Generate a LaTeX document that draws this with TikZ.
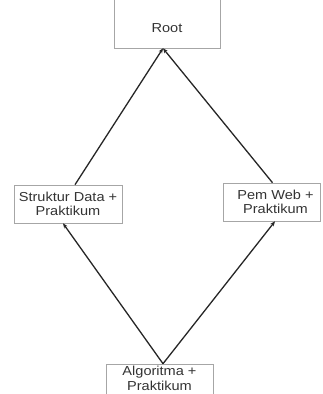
\documentclass[tikz,border=0pt]{standalone}
\usepackage{fontspec}
\setmainfont{Liberation Sans}
\usetikzlibrary{arrows.meta}
\begin{document}
\begin{tikzpicture}[x=1pt,y=-1pt,
  box/.style={draw=black!35,line width=0.6pt,rectangle,inner sep=0pt,
    text=black!80,align=center,font=\fontsize{13}{14.5}\selectfont},
  lbl/.style={inner sep=0pt,text=black!80,align=center,font=\fontsize{13}{14.5}\selectfont},
  link/.style={draw=black!85,line width=1.3pt,-{Stealth[length=5pt,width=4pt]}}]
\useasboundingbox (0,0) rectangle (323,394);
\node[box,minimum width=106pt,minimum height=52pt] (root) at (167,22) {};
\node[lbl] (roottxt) at (167,28) {\scalebox{1.12}[1]{Root}};
\node[box,minimum width=108pt,minimum height=38pt] (sd) at (68,204) {\scalebox{1.12}[1]{Struktur Data +}\\\scalebox{1.12}[1]{Praktikum}};
\node[box,minimum width=97pt,minimum height=38pt] (pw) at (271.5,202) {\hspace*{8pt}\scalebox{1.12}[1]{Pem Web +}\\\hspace*{8pt}\scalebox{1.12}[1]{Praktikum}};
\node[box,minimum width=107pt,minimum height=40pt] (al) at (159.5,384) {};
\node[lbl] (altxt) at (159.5,378.5) {\scalebox{1.12}[1]{Algoritma +}\\\scalebox{1.12}[1]{Praktikum}};
\draw[link] ([xshift=7pt]sd.north) -- ([xshift=-4pt]root.south);
\draw[link] ([xshift=1pt]pw.north) -- ([xshift=-4pt]root.south);
\draw[link] ([xshift=3.5pt]al.north) -- ([xshift=-5pt]sd.south);
\draw[link] ([xshift=3.5pt]al.north) -- ([xshift=3.5pt]pw.south);
\end{tikzpicture}
\end{document}
